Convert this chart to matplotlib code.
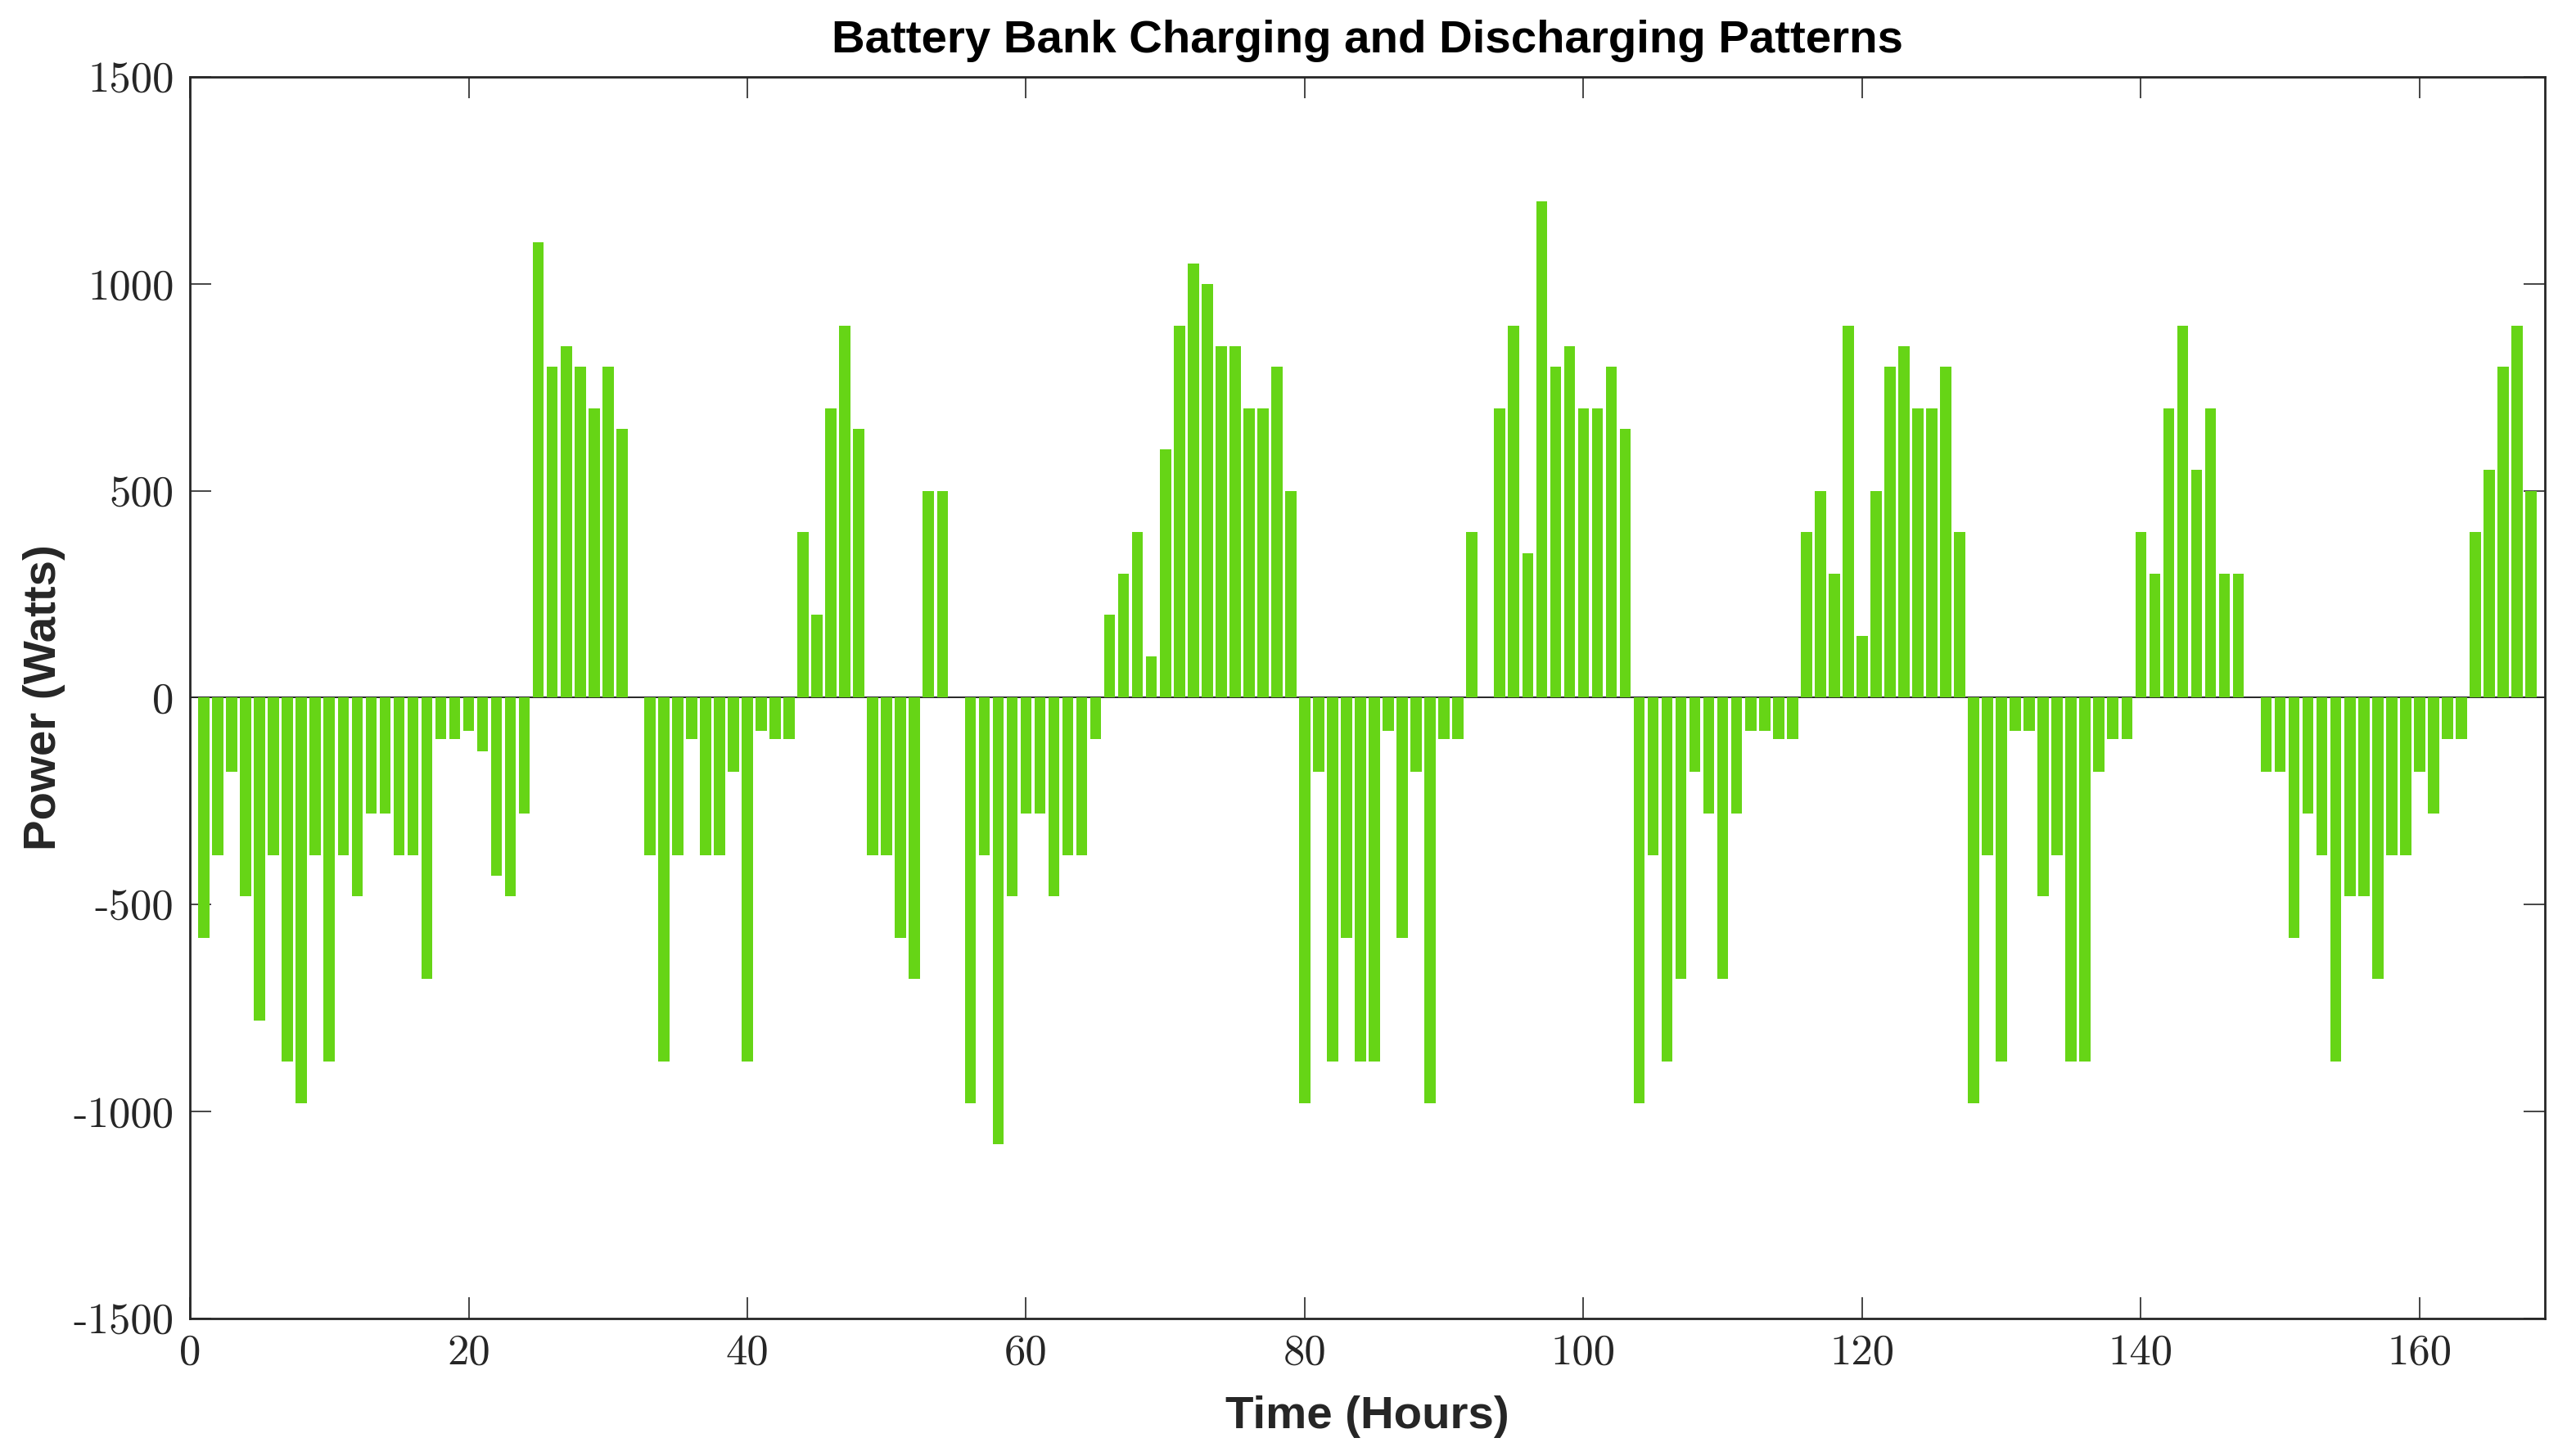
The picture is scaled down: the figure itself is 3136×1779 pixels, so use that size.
import matplotlib
matplotlib.use('Agg')
import matplotlib.pyplot as plt
import numpy as np

# hourly battery power, one list per day (hours 1..168)
day1 = [-580, -380, -180, -480, -780, -380, -880, -980, -380, -880, -380, -480,
        -280, -280, -380, -380, -680, -100, -100, -80, -130, -430, -480, -280]
day2 = [1100, 800, 850, 800, 700, 800, 650, 0, -380, -880, -380, -100,
        -380, -380, -180, -880, -80, -100, -100, 400, 200, 700, 900, 650]
day3 = [-380, -380, -580, -680, 500, 500, 0, -980, -380, -1080, -480, -280,
        -280, -480, -380, -380, -100, 200, 300, 400, 100, 600, 900, 1050]
day4 = [1000, 850, 850, 700, 700, 800, 500, -980, -180, -880, -580, -880,
        -880, -80, -580, -180, -980, -100, -100, 400, 0, 700, 900, 350]
day5 = [1200, 800, 850, 700, 700, 800, 650, -980, -380, -880, -680, -180,
        -280, -680, -280, -80, -80, -100, -100, 400, 500, 300, 900, 150]
day6 = [500, 800, 850, 700, 700, 800, 400, -980, -380, -880, -80, -80,
        -480, -380, -880, -880, -180, -100, -100, 400, 300, 700, 900, 550]
day7 = [700, 300, 300, 0, -180, -180, -580, -280, -380, -880, -480, -480,
        -680, -380, -380, -180, -280, -100, -100, 400, 550, 800, 900, 500]

power = day1 + day2 + day3 + day4 + day5 + day6 + day7
hours = list(range(1, len(power) + 1))

xticks = [0, 20, 40, 60, 80, 100, 120, 140, 160]
yticks = [-1500, -1000, -500, 0, 500, 1000, 1500]

fig = plt.figure(figsize=(15.68, 8.895), dpi=200)
ax = fig.add_axes([0.074, 0.0946, 0.9174, 0.8524])

ax.bar(hours, power, width=0.8, color='#66d516', edgecolor='none', zorder=2)
ax.axhline(0, color='#262626', lw=0.7, zorder=1)

ax.set_xlim(0, 169)
ax.set_ylim(-1500, 1500)

ax.set_xticks(xticks)
ax.set_xticklabels([str(v) for v in xticks], fontfamily='cmr10', fontsize=19)
ax.set_yticks(yticks)
ax.set_yticklabels([str(v) for v in yticks], fontfamily='cmr10', fontsize=19)
ax.tick_params(direction='in', length=9.5, width=0.6, top=True, right=True,
               colors='#262626', pad=7)
for s in ax.spines.values():
    s.set_linewidth(1.0)
    s.set_color('#262626')

lab = dict(fontfamily='Liberation Sans', fontweight='bold', fontsize=20.3)
ax.set_title('Battery Bank Charging and Discharging Patterns', pad=11, **lab)
ax.set_xlabel('Time (Hours)', color='#262626', **lab)
ax.set_ylabel('Power (Watts)', color='#262626', **lab)
ax.xaxis.set_label_coords(0.5, -0.079)
ax.yaxis.set_label_coords(-0.062, 0.5)
ax.xaxis.label.set_va('center')
ax.yaxis.label.set_va('center')

fig.savefig('out.png', dpi=200)
